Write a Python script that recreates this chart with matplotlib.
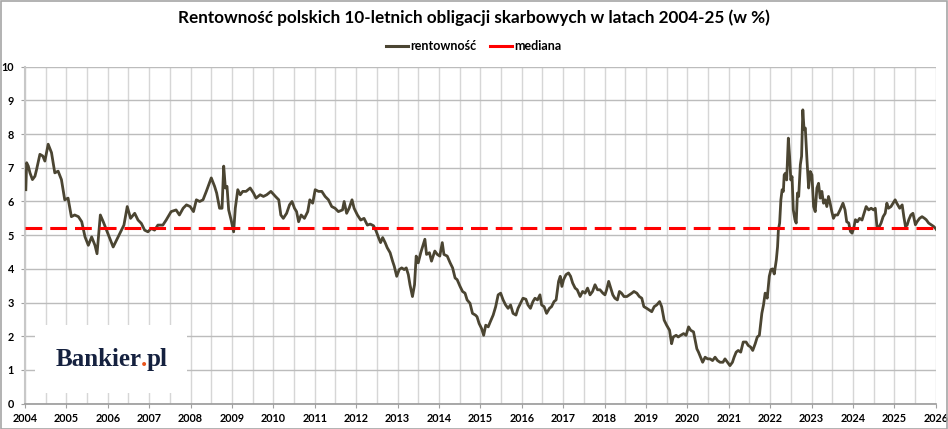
import numpy as np
import matplotlib
matplotlib.use("Agg")
import matplotlib.pyplot as plt
from matplotlib.lines import Line2D
from matplotlib.patches import Rectangle

# ─── Data (decimal years) ────────────────────────────────────────────────────
years = [
    2004.02, 2004.04, 2004.08, 2004.12, 2004.18, 2004.24, 2004.28, 2004.36, 2004.43, 2004.48,
    2004.56, 2004.64, 2004.72, 2004.80, 2004.88, 2004.96, 2005.04, 2005.12, 2005.20, 2005.29,
    2005.37, 2005.45, 2005.53, 2005.61, 2005.69, 2005.74, 2005.82, 2005.89, 2005.97, 2006.05,
    2006.13, 2006.21, 2006.29, 2006.39, 2006.47, 2006.55, 2006.65, 2006.73, 2006.81, 2006.89,
    2006.97, 2007.05, 2007.13, 2007.21, 2007.33, 2007.41, 2007.53, 2007.65, 2007.73, 2007.82,
    2007.90, 2007.99, 2008.07, 2008.14, 2008.22, 2008.30, 2008.38, 2008.44, 2008.50, 2008.58,
    2008.63, 2008.70, 2008.76, 2008.80, 2008.84, 2008.88, 2008.92, 2008.98, 2009.04, 2009.08,
    2009.14, 2009.20, 2009.26, 2009.34, 2009.44, 2009.52, 2009.58, 2009.68, 2009.76, 2009.84,
    2009.94, 2010.05, 2010.13, 2010.18, 2010.24, 2010.32, 2010.39, 2010.45, 2010.51, 2010.56,
    2010.61, 2010.67, 2010.75, 2010.83, 2010.88, 2010.95, 2011.01, 2011.09, 2011.17, 2011.25,
    2011.33, 2011.41, 2011.49, 2011.57, 2011.67, 2011.71, 2011.77, 2011.83, 2011.90, 2011.95,
    2012.03, 2012.11, 2012.19, 2012.27, 2012.34, 2012.42, 2012.48, 2012.54, 2012.59, 2012.64,
    2012.70, 2012.75, 2012.82, 2012.88, 2012.92, 2012.98, 2013.04, 2013.10, 2013.16, 2013.21,
    2013.26, 2013.30, 2013.36, 2013.41, 2013.45, 2013.50, 2013.56, 2013.66, 2013.70, 2013.77,
    2013.82, 2013.90, 2013.96, 2014.02, 2014.08, 2014.12, 2014.20, 2014.27, 2014.33, 2014.39,
    2014.44, 2014.51, 2014.57, 2014.63, 2014.68, 2014.75, 2014.81, 2014.88, 2014.92, 2014.97,
    2015.03, 2015.08, 2015.13, 2015.19, 2015.24, 2015.31, 2015.37, 2015.43, 2015.49, 2015.55,
    2015.61, 2015.67, 2015.73, 2015.79, 2015.86, 2015.91, 2015.97, 2016.03, 2016.10, 2016.15,
    2016.21, 2016.27, 2016.32, 2016.38, 2016.44, 2016.48, 2016.54, 2016.60, 2016.67, 2016.72,
    2016.78, 2016.83, 2016.89, 2016.93, 2016.97, 2017.01, 2017.07, 2017.13, 2017.18, 2017.23,
    2017.29, 2017.34, 2017.41, 2017.47, 2017.53, 2017.59, 2017.65, 2017.71, 2017.77, 2017.83,
    2017.89, 2017.96, 2018.01, 2018.05, 2018.10, 2018.15, 2018.20, 2018.25, 2018.31, 2018.36,
    2018.41, 2018.47, 2018.54, 2018.60, 2018.66, 2018.71, 2018.78, 2018.84, 2018.90, 2018.95,
    2019.02, 2019.08, 2019.14, 2019.20, 2019.26, 2019.33, 2019.38, 2019.44, 2019.50, 2019.57,
    2019.62, 2019.66, 2019.73, 2019.78, 2019.84, 2019.91, 2019.97, 2020.03, 2020.08, 2020.15,
    2020.19, 2020.23, 2020.27, 2020.32, 2020.37, 2020.43, 2020.49, 2020.55, 2020.61, 2020.67,
    2020.73, 2020.79, 2020.86, 2020.91, 2020.97, 2021.03, 2021.09, 2021.13, 2021.18, 2021.23,
    2021.29, 2021.35, 2021.42, 2021.47, 2021.53, 2021.58, 2021.64, 2021.69, 2021.74, 2021.80,
    2021.84, 2021.88, 2021.93, 2021.98, 2022.02, 2022.06, 2022.10, 2022.15, 2022.18, 2022.20,
    2022.23, 2022.26, 2022.29, 2022.32, 2022.34, 2022.37, 2022.40, 2022.44, 2022.47, 2022.50,
    2022.53, 2022.56, 2022.60, 2022.63, 2022.66, 2022.69, 2022.73, 2022.76, 2022.79, 2022.82,
    2022.85, 2022.89, 2022.93, 2022.97, 2023.01, 2023.05, 2023.09, 2023.13, 2023.17, 2023.21,
    2023.25, 2023.29, 2023.33, 2023.37, 2023.41, 2023.45, 2023.49, 2023.53, 2023.57, 2023.63,
    2023.69, 2023.76, 2023.81, 2023.85, 2023.90, 2023.94, 2023.98, 2024.02, 2024.06, 2024.11,
    2024.16, 2024.22, 2024.27, 2024.32, 2024.38, 2024.44, 2024.50, 2024.54, 2024.58, 2024.62,
    2024.68, 2024.73, 2024.78, 2024.82, 2024.86, 2024.92, 2024.97, 2025.02, 2025.06, 2025.13,
    2025.19, 2025.23, 2025.27, 2025.31, 2025.35, 2025.40, 2025.45, 2025.51, 2025.55, 2025.61,
    2025.67, 2025.73, 2025.77, 2025.83, 2025.89, 2025.95, 2025.99, 2026.02,
]
yields = [
    6.35, 7.15, 7.05, 6.85, 6.65, 6.75, 6.95, 7.40, 7.35, 7.20,
    7.70, 7.45, 6.85, 6.90, 6.65, 6.05, 6.10, 5.55, 5.60, 5.55,
    5.40, 4.95, 4.70, 4.95, 4.70, 4.45, 5.60, 5.40, 5.15, 4.90,
    4.65, 4.85, 5.05, 5.30, 5.85, 5.50, 5.65, 5.45, 5.35, 5.15,
    5.10, 5.20, 5.15, 5.30, 5.30, 5.45, 5.70, 5.75, 5.60, 5.80,
    5.90, 5.85, 5.70, 6.05, 6.00, 6.05, 6.30, 6.50, 6.70, 6.45,
    6.25, 5.80, 5.80, 7.05, 6.40, 6.45, 5.75, 5.45, 5.10, 5.80,
    6.35, 6.20, 6.30, 6.30, 6.40, 6.25, 6.10, 6.20, 6.15, 6.20,
    6.30, 6.15, 6.05, 5.60, 5.50, 5.65, 5.90, 6.00, 5.80, 5.70,
    5.40, 5.60, 5.50, 5.70, 6.05, 5.95, 6.35, 6.30, 6.30, 6.15,
    6.05, 5.85, 5.80, 5.70, 5.75, 6.00, 5.65, 5.80, 6.05, 5.80,
    5.60, 5.45, 5.50, 5.30, 5.33, 5.28, 5.13, 4.93, 4.78, 4.93,
    4.78, 4.63, 4.48, 4.23, 4.08, 3.78, 3.98, 4.03, 3.98, 4.03,
    3.83, 3.53, 3.18, 3.53, 4.38, 4.18, 4.48, 4.88, 4.43, 4.48,
    4.23, 4.53, 4.43, 4.38, 4.78, 4.43, 4.38, 4.18, 4.03, 3.73,
    3.68, 3.48, 3.33, 3.28, 3.08, 2.98, 2.68, 2.63, 2.58, 2.38,
    2.23, 2.03, 2.33, 2.28, 2.43, 2.63, 2.88, 3.23, 3.28, 3.08,
    2.93, 2.83, 2.93, 2.68, 2.63, 2.83, 2.98, 3.13, 3.10, 2.93,
    2.83, 3.03, 3.13, 3.08, 3.23, 2.93, 2.88, 2.68, 2.83, 2.88,
    3.03, 3.08, 3.63, 3.78, 3.48, 3.68, 3.83, 3.88, 3.78, 3.58,
    3.43, 3.38, 3.18, 3.33, 3.28, 3.43, 3.23, 3.33, 3.53, 3.38,
    3.38, 3.28, 3.23, 3.38, 3.63, 3.43, 3.23, 3.13, 3.08, 3.33,
    3.28, 3.18, 3.18, 3.23, 3.28, 3.33, 3.28, 3.18, 3.13, 2.88,
    2.83, 2.78, 2.73, 2.88, 2.93, 3.03, 2.88, 2.48, 2.33, 2.18,
    1.78, 1.98, 2.03, 1.98, 2.03, 2.08, 2.03, 2.28, 2.18, 2.13,
    1.88, 1.63, 1.53, 1.38, 1.23, 1.38, 1.33, 1.33, 1.28, 1.38,
    1.28, 1.23, 1.23, 1.33, 1.23, 1.13, 1.23, 1.38, 1.53, 1.58,
    1.53, 1.83, 1.83, 1.73, 1.68, 1.58, 1.78, 1.98, 2.03, 2.68,
    2.93, 3.28, 3.13, 3.78, 3.98, 4.00, 3.85, 4.27, 4.66, 5.16,
    5.36, 6.05, 6.35, 6.30, 6.79, 6.84, 6.64, 7.88, 7.34, 6.64,
    6.74, 5.75, 5.46, 5.36, 6.25, 6.15, 7.09, 7.34, 8.72, 8.13,
    8.18, 7.24, 6.40, 6.89, 6.79, 5.85, 5.70, 6.40, 6.54, 6.10,
    6.30, 5.95, 6.05, 5.85, 6.15, 5.95, 5.70, 5.50, 5.60, 5.60,
    5.75, 5.95, 5.75, 5.40, 5.36, 5.11, 5.06, 5.21, 5.46, 5.40,
    5.50, 5.45, 5.65, 5.85, 5.75, 5.80, 5.75, 5.80, 5.26, 5.21,
    5.36, 5.55, 5.65, 5.95, 5.80, 5.85, 5.95, 6.05, 5.95, 5.80,
    5.90, 5.55, 5.26, 5.30, 5.46, 5.60, 5.65, 5.31, 5.40, 5.50,
    5.55, 5.50, 5.46, 5.36, 5.31, 5.26, 5.21, 5.16,
]
MEDIAN = 5.2
YEAR_TICKS = list(range(2004, 2027))

TITLE = "Rentowność polskich 10-letnich obligacji skarbowych w latach 2004-25 (w %)"
LINE_COLOR = "#4b4532"
MEDIAN_COLOR = "#ff0000"
NAVY = "#15213f"

plt.rcParams["font.family"] = ["Lato", "DejaVu Sans"]

# ─── Figure ──────────────────────────────────────────────────────────────────
W, H = 948, 429
fig = plt.figure(figsize=(W / 100, H / 100), dpi=100)
fig.patch.set_facecolor("white")
ax = fig.add_axes([25 / W, (H - 403.7) / H, (935.7 - 25) / W, (403.7 - 66.7) / H])

ax.plot(years, yields, color=LINE_COLOR, lw=2.0, zorder=3, solid_joinstyle="round")
ax.axhline(MEDIAN, color=MEDIAN_COLOR, lw=2.2, dashes=(5.5, 2.6), zorder=4)

ax.set_xlim(2004, 2026)
ax.set_ylim(0, 10)
ax.set_xticks(YEAR_TICKS)
ax.set_xticks(np.arange(2004.5, 2026, 1.0), minor=True)
ax.set_yticks(range(0, 11))
ax.set_axisbelow(True)
ax.grid(axis="y", which="major", color="#bcbcbc", lw=1.0)
ax.grid(axis="x", which="both", color="#d6d6d6", lw=1.0)
ax.tick_params(axis="x", which="major", length=3, color="#a0a0a0", pad=4,
               labelsize=7.8, labelcolor="black")
ax.tick_params(axis="x", which="minor", length=0)
ax.tick_params(axis="y", length=3, color="#a0a0a0", pad=5, labelsize=7.8)
for lab in ax.get_xticklabels() + ax.get_yticklabels():
    lab.set_fontweight("bold")

for side in ("top", "right"):
    ax.spines[side].set_visible(False)
ax.spines["left"].set_color("#c8c8c8")
ax.spines["left"].set_linewidth(1.5)
ax.spines["bottom"].set_color("#9a9a9a")
ax.spines["bottom"].set_linewidth(1.2)

# ─── Logo on a white box ─────────────────────────────────────────────────────
ax.add_patch(Rectangle((35 / W, (H - 393) / H), 152 / W, 68 / H, transform=fig.transFigure,
                       facecolor="white", edgecolor="none", zorder=1.5))
logo_font = dict(family="Liberation Serif", weight="bold", fontsize=18)
t1 = fig.text(56 / W, (H - 371) / H, "Bankier", color=NAVY, ha="left", va="bottom", **logo_font)
dot = ax.annotate(".", xy=(1, 0), xycoords=t1, xytext=(-1.0, 0), textcoords="offset points",
                  color="#e8541c", ha="left", va="bottom", annotation_clip=False, **logo_font)
ax.annotate("pl", xy=(1, 0), xycoords=dot, xytext=(0, 0), textcoords="offset points",
            color=NAVY, ha="left", va="bottom", annotation_clip=False, **logo_font)

# ─── Title and legend ────────────────────────────────────────────────────────
fig.text(0.5, 1 - 18 / H, TITLE, ha="center", va="center", fontsize=12.3, weight="bold")
handles = [Line2D([], [], color=LINE_COLOR, lw=2.2),
           Line2D([], [], color=MEDIAN_COLOR, lw=2.2)]
fig.legend(handles, ["rentowność", "mediana"], loc="center",
           bbox_to_anchor=(0.5, 1 - 46 / H), ncol=2, frameon=False,
           prop={"weight": "bold", "size": 9}, handlelength=1.75,
           handletextpad=0.2, columnspacing=1.1)

# outer frame
fig.add_artist(Rectangle((0.5 / W, 0.5 / H), 1 - 1.5 / W, 1 - 1.5 / H, transform=fig.transFigure,
                         facecolor="none", edgecolor="#a6a6a6", lw=1.2))

fig.savefig("out.png", dpi=100)
